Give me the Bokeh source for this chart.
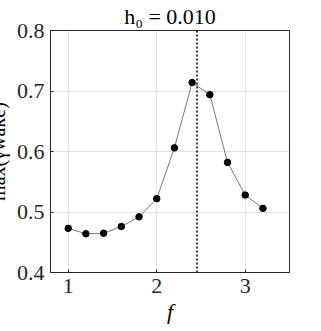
from bokeh.plotting import figure
from bokeh.models import Range1d, FixedTicker, Span, Title
from bokeh.embed import file_html
from bokeh.resources import INLINE

# ---- data ----
f_vals = [1.0, 1.2, 1.4, 1.6, 1.8, 2.0, 2.2, 2.4, 2.6, 2.8, 3.0, 3.2]
gamma_max = [0.473, 0.464, 0.465, 0.476, 0.492, 0.522, 0.606, 0.714, 0.694, 0.582, 0.528, 0.506]
f_marker = 2.455
x_ticks = [1, 2, 3]
y_ticks = [0.4, 0.5, 0.6, 0.7, 0.8]
x_lim = (0.8, 3.5)
y_lim = (0.4, 0.8)
title_text = "h\u2080 = 0.010"
x_label = "f"
y_label = "max(\u03b3wake)"

SHIFT = 20                     # canvas pushed left so the y label is cut like the reference
W, H = 321 + SHIFT, 331
BR, BT, BB = 32, 29, 59
FW = 239
BL = W - BR - FW

FONT = "Liberation Serif"
AX = "#262626"

p = figure(width=W, height=H, x_range=Range1d(*x_lim), y_range=Range1d(*y_lim),
           output_backend="svg", toolbar_location=None,
           min_border_left=BL, min_border_right=BR, min_border_top=BT, min_border_bottom=BB)
p.styles = {"position": "absolute", "left": f"-{SHIFT}px", "top": "0px"}
p.background_fill_color = "white"
p.border_fill_color = "white"
p.outline_line_color = AX
p.outline_line_width = 1
p.outline_line_alpha = 1

p.title = Title(text=title_text, align="center", text_font=FONT, text_font_size="22px",
                text_font_style="normal", text_color="black", standoff=3)

for ax, ticks in ((p.xaxis[0], x_ticks), (p.yaxis[0], y_ticks)):
    ax.ticker = FixedTicker(ticks=ticks)
    ax.axis_line_color = AX
    ax.major_tick_line_color = AX
    ax.major_tick_in = 3
    ax.major_tick_out = 0
    ax.minor_tick_line_color = None
    ax.major_label_text_font = FONT
    ax.major_label_text_font_size = "22px"
    ax.major_label_text_color = AX
    ax.major_label_standoff = 6
    ax.axis_label_text_font = FONT
    ax.axis_label_text_font_size = "22px"
    ax.axis_label_text_color = "black"

p.xaxis[0].axis_label = x_label
p.xaxis[0].axis_label_text_font_style = "italic"
p.xaxis[0].axis_label_standoff = 3
p.yaxis[0].axis_label = y_label
p.yaxis[0].axis_label_text_font_style = "normal"
p.yaxis[0].axis_label_text_font_size = "20px"
p.yaxis[0].axis_label_standoff = 5

p.xgrid.ticker = FixedTicker(ticks=x_ticks)
p.ygrid.ticker = FixedTicker(ticks=y_ticks)
p.xgrid.grid_line_color = "#e3e3e3"
p.ygrid.grid_line_color = "#e3e3e3"

p.line(f_vals, gamma_max, line_color="#4a4a4a", line_width=0.75)
p.scatter(f_vals, gamma_max, size=6.5, fill_color="black", line_color="black")
p.add_layout(Span(location=f_marker, dimension="height", line_color="black",
                  line_width=1.5, line_dash="2 2"))

open("out.html", "w").write(file_html(p, INLINE))
